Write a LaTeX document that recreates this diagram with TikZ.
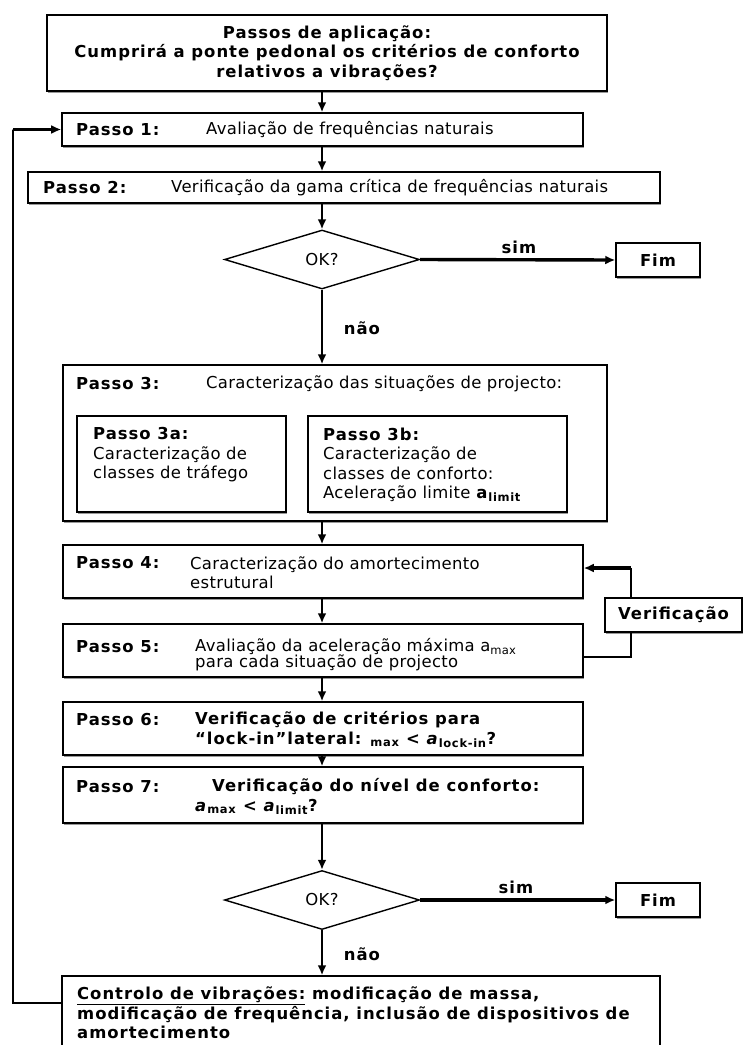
\documentclass[tikz,border=0pt]{standalone}
\usepackage{fontspec}
\setmainfont{DejaVu Sans}[LetterSpace=2, BoldFeatures={LetterSpace=6}, BoldItalicFeatures={LetterSpace=6}]
\usetikzlibrary{shapes.geometric,arrows.meta,shadows}
\AtBeginDocument{\fontsize{16.5}{19.5}\selectfont}

\tikzset{
  box/.style={draw, fill=white, line width=1.5bp, inner sep=0pt,
    drop shadow={shadow xshift=1.2bp, shadow yshift=-1.8bp, fill=black!40, opacity=1}},
  decision/.style={draw, diamond, line width=1.4bp, inner sep=0pt, aspect=3.3,
    minimum width=195bp, minimum height=59bp},
  lbl/.style={anchor=west, inner sep=0pt, font=\bfseries},
  txt/.style={anchor=west, inner sep=0pt, align=left},
  answer/.style={inner sep=0pt, font=\bfseries},
  flow/.style={line width=2bp, -{Latex[length=10bp,width=9bp]}},
  bigflow/.style={line width=3.4bp, -{Latex[length=10bp,width=9bp]}},
  link/.style={line width=1.6bp},
}

\begin{document}
\begin{tikzpicture}[x=1bp, y=-1bp]
  \useasboundingbox (0,0) rectangle (744,1045);
  \clip (0,0) rectangle (744,1045);

  % boxes
  \node[box, minimum width=560bp, minimum height=76bp, font=\bfseries, align=center] (title) at (327,53)
    {Passos de aplicação:\\Cumprirá a ponte pedonal os critérios de conforto\\relativos a vibrações?};
  \node[box, minimum width=521bp, minimum height=33bp] (p1) at (322.5,129.5) {};
  \node[box, minimum width=632bp, minimum height=31bp] (p2) at (344,187.5) {};
  \node[decision] (ok1) at (322,259.5) {OK?};
  \node[box, minimum width=84bp, minimum height=34bp, font=\bfseries] (fim1) at (658,260) {Fim};
  \node[box, minimum width=544bp, minimum height=156bp] (p3) at (335,443) {};
  \node[box, minimum width=209bp, minimum height=96bp] (p3a) at (181.5,464) {};
  \node[box, minimum width=259bp, minimum height=96bp] (p3b) at (437.5,464) {};
  \node[box, minimum width=520bp, minimum height=53bp] (p4) at (323,571.5) {};
  \node[box, minimum width=520bp, minimum height=53bp] (p5) at (323,650.5) {};
  \node[box, minimum width=137bp, minimum height=34bp, font=\bfseries] (verif) at (673.5,615) {Verificação};
  \node[box, minimum width=520bp, minimum height=53bp] (p6) at (323,728.5) {};
  \node[box, minimum width=520bp, minimum height=56bp] (p7) at (323,795) {};
  \node[decision] (ok2) at (322,900) {OK?};
  \node[box, minimum width=84bp, minimum height=34bp, font=\bfseries] (fim2) at (658,900) {Fim};
  \node[box, minimum width=598bp, minimum height=84bp] (ctrl) at (361,1018) {};

  % texts
  \node[lbl] (l1) at (76,130) {Passo 1:};
  \node[txt] (t1) at (206,130) {Avaliação de frequências naturais};
  \node[lbl] (l2) at (43,188) {Passo 2:};
  \node[txt] (t2) at (171,188) {Verificação da gama crítica de frequências naturais};
  \node[lbl] (l3) at (76,384) {Passo 3:};
  \node[txt] (t3) at (206,384) {Caracterização das situações de projecto:};
  \node[txt] (t3a) at (93,455) {\textbf{Passo 3a:}\\Caracterização de\\classes de tráfego};
  \node[txt] (t3b) at (323,465) {\textbf{Passo 3b:}\\Caracterização de\\classes de conforto:\\Aceleração limite \textbf{a}\textsubscript{\textbf{limit}}};
  \node[lbl] (l4) at (76,563) {Passo 4:};
  \node[txt] (t4) at (190,573) {Caracterização do amortecimento\\estrutural};
  \node[lbl] (l5) at (76,647) {Passo 5:};
  \node[txt] (t5) at (195,654.5) {Avaliação da aceleração máxima a\textsubscript{max}\\[-4bp]para cada situação de projecto};
  \node[lbl] (l6) at (76,720) {Passo 6:};
  \node[txt, font=\bfseries] (t6) at (195,729.5) {Verificação de critérios para\\“lock-in”lateral: \textsubscript{max} < \textit{a}\textsubscript{lock-in}?};
  \node[lbl] (l7) at (76,787) {Passo 7:};
  \node[txt, font=\bfseries] (t7) at (195,796.5) {\hspace*{17bp}Verificação do nível de conforto:\\\textit{a}\textsubscript{max} < \textit{a}\textsubscript{limit}?};
  \node[txt, font=\bfseries] (t8) at (77,1013) {\underline{Controlo de vibrações:} modificação de massa,\\modificação de frequência, inclusão de dispositivos de\\amortecimento};

  \node[answer] (sim1) at (519,247) {sim};
  \node[answer] (nao1) at (362,328) {não};
  \node[answer] (sim2) at (516,887) {sim};
  \node[answer] (nao2) at (362,954) {não};

  % main flow
  \draw[flow] (title.south -| ok1) -- (p1.north -| ok1);
  \draw[flow] (p1.south -| ok1) -- (p2.north -| ok1);
  \draw[flow] (p2.south -| ok1) -- (ok1.north);
  \draw[bigflow] (ok1.east) -- (fim1.west);
  \draw[flow] (ok1.south) -- (p3.north -| ok1);
  \draw[flow] (p3.south -| ok1) -- (p4.north -| ok1);
  \draw[flow] (p4.south -| ok1) -- (p5.north -| ok1);
  \draw[flow] (p5.south -| ok1) -- (p6.north -| ok1);
  \draw[flow] (p6.south -| ok1) -- (p7.north -| ok1);
  \draw[flow] (p7.south -| ok1) -- (ok2.north);
  \draw[bigflow] (ok2.east) -- (fim2.west);
  \draw[flow] (ok2.south) -- (ctrl.north -| ok2);

  % loop back to step 1
  \coordinate (back) at (13,1003);
  \draw[link] ([yshift=15bp]ctrl.west) -- (back) -- (back |- p1.west);
  \draw[bigflow] (back |- p1.west) -- (p1.west);

  % verification loop
  \coordinate (vx) at (631,568);
  \draw[link] ([yshift=-6.5bp]p5.east) -| (vx |- verif.south);
  \draw[link] (vx |- verif.north) -- (vx);
  \draw[bigflow] (vx) -- (vx -| p4.east);
\end{tikzpicture}
\end{document}
